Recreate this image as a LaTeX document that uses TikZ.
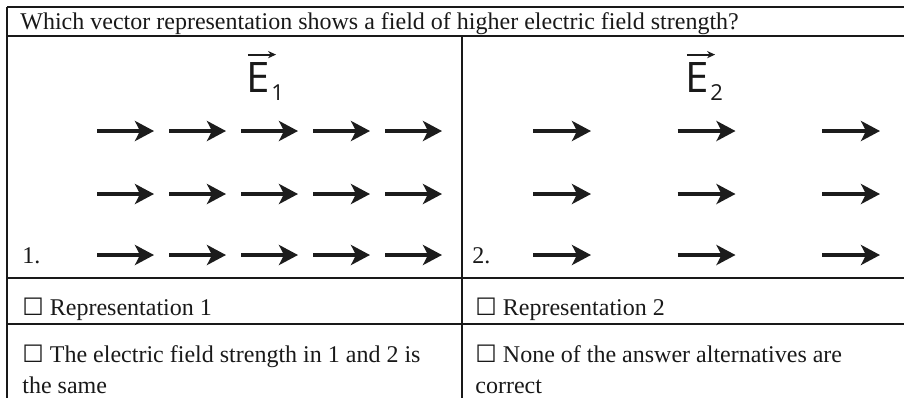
\documentclass[tikz,border=0pt]{standalone}
\usepackage{fontspec}
\setmainfont{Liberation Serif}
\newfontfamily\labelfont{Open Sans}
\newfontfamily\boxfont{DejaVu Sans}
\usepackage{tikz}
\usetikzlibrary{positioning,arrows.meta,calc}
\definecolor{ruledark}{RGB}{25,25,25}
\definecolor{arrowdark}{RGB}{28,28,28}
\newcommand{\chk}{{\boxfont ☐}}

\begin{document}
\begin{tikzpicture}[x=0.5pt,y=-0.5pt,
    every node/.style={font=\fontsize{12}{15.5}\selectfont,inner sep=0pt,text=ruledark},
    gridline/.style={draw=ruledark,line width=0.8pt},
    fieldarrow/.style={draw=arrowdark,line width=1.8pt,-{Stealth[length=9.5pt,width=10pt,inset=2.5pt]}},
    vecarrow/.style={draw=arrowdark,line width=0.9pt,-{Stealth[length=4pt,width=3.6pt]}},
    cell/.style={anchor=base west,align=left}]
  \useasboundingbox (0,0) rectangle (904,398);
  % table rules
  \draw[gridline] (7,7) -- (904,7);
  \draw[gridline] (7,36) -- (904,36);
  \draw[gridline] (7,278) -- (904,278);
  \draw[gridline] (7,324) -- (904,324);
  \draw[gridline] (7,7) -- (7,398);
  \draw[gridline] (462,36) -- (462,398);
  % question and answers
  \node[cell] (question) at (20,29) {Which vector representation shows a field of higher electric field strength?};
  \node[cell] (num1) at (22,263) {1.};
  \node[cell] (num2) at (472,263) {2.};
  \node[cell] (ans1) at (22,315) {\chk\ Representation 1};
  \node[cell] (ans2) at (475,315) {\chk\ Representation 2};
  \node[cell] (ans3) at (22,393) {\chk\ The electric field strength in 1 and 2 is\\the same};
  \node[cell] (ans4) at (475,393) {\chk\ None of the answer alternatives are\\correct};
  % field labels
  \node[font=\labelfont\fontsize{21}{21}\selectfont,anchor=base] (e1) at (258,92) {E};
  \node[font=\labelfont\fontsize{11}{11}\selectfont,anchor=base west] (e1sub) at ($(e1.base east)+(1,8)$) {1};
  \node[font=\labelfont\fontsize{21}{21}\selectfont,anchor=base] (e2) at (697,92) {E};
  \node[font=\labelfont\fontsize{11}{11}\selectfont,anchor=base west] (e2sub) at ($(e2.base east)+(1,8)$) {2};
  \draw[vecarrow] ($(e1.north west)+(2,-7)$) -- ($(e1.north east)+(6,-7)$);
  \draw[vecarrow] ($(e2.north west)+(2,-7)$) -- ($(e2.north east)+(6,-7)$);
  % field arrows
  \foreach \y in {131,194,255}{
    \foreach \i in {0,...,4}
      \draw[fieldarrow] (97+72*\i,\y) -- (154+72*\i,\y);
    \foreach \i in {0,1,2}
      \draw[fieldarrow] (533+144.5*\i,\y) -- (591+144.5*\i,\y);
  }
\end{tikzpicture}
\end{document}
